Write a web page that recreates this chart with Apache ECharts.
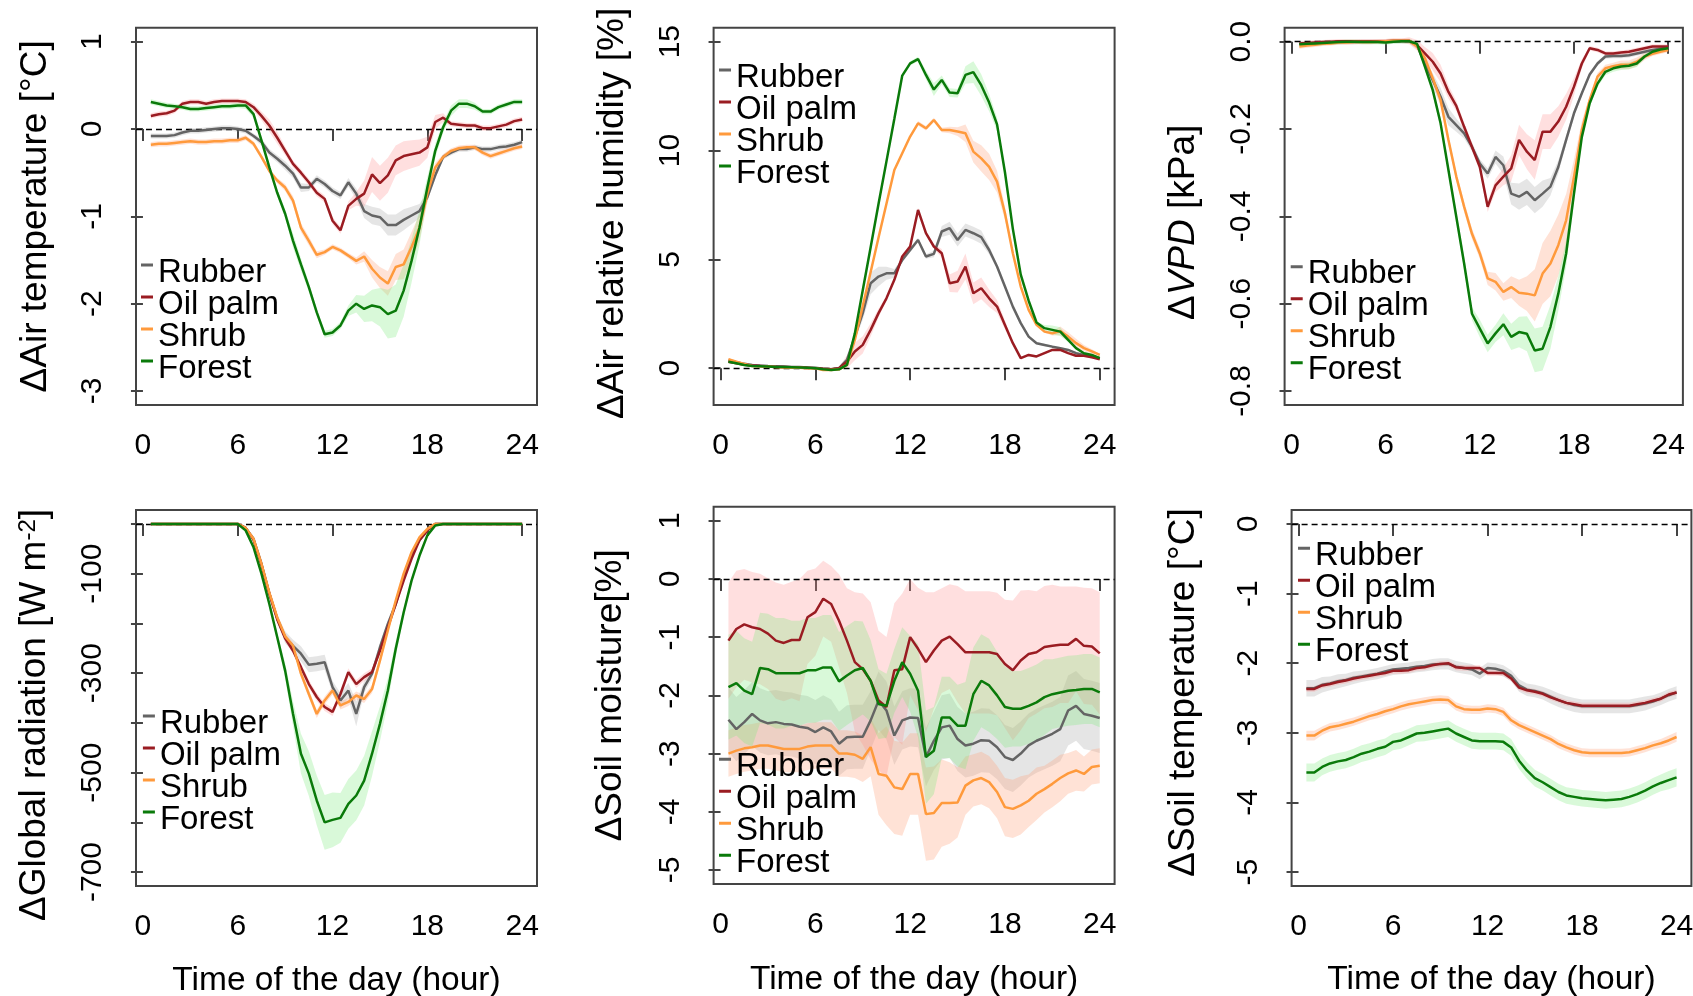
<!DOCTYPE html>
<html>
<head>
<meta charset="utf-8">
<title>Microclimate differences by land use</title>
<script src="https://cdn.jsdelivr.net/npm/echarts@6.0.0/dist/echarts.min.js"></script>
<style>
  html, body { margin: 0; padding: 0; background: #ffffff; }
  #chart { width: 1693px; height: 996px; }
</style>
</head>
<body>
<div id="chart"></div>
<script>
// Half-hourly time of day (hour)
const hours = [
  0.5, 1, 1.5, 2, 2.5, 3, 3.5, 4, 4.5, 5, 5.5, 6,
  6.5, 7, 7.5, 8, 8.5, 9, 9.5, 10, 10.5, 11, 11.5, 12,
  12.5, 13, 13.5, 14, 14.5, 15, 15.5, 16, 16.5, 17, 17.5, 18,
  18.5, 19, 19.5, 20, 20.5, 21, 21.5, 22, 22.5, 23, 23.5, 24
];
const landUses = ['Rubber', 'Oil palm', 'Shrub', 'Forest'];
const hourTicks = [0, 6, 12, 18, 24];

// Tick positions and labels of the value axes
const airTempTicks = [-3, -2, -1, 0, 1];
const humidityTicks = [0, 5, 10, 15];
const vpdTicks = [-0.8, -0.6, -0.4, -0.2, 0];
const radiationTicks = [-700, -600, -500, -400, -300, -200, -100, 0];
const radiationLabels = [-700, -500, -300, -100];
const soilMoistureTicks = [-5, -4, -3, -2, -1, 0, 1];
const soilTempTicks = [-5, -4, -3, -2, -1, 0];

// ΔAir temperature [°C]
const airTempRubber = [
  -0.08, -0.08, -0.08, -0.07, -0.04, -0.02, -0.02, -0.01, 0.00, 0.01, 0.01, 0.00,
  -0.02, -0.08, -0.15, -0.27, -0.34, -0.42, -0.51, -0.67, -0.67, -0.57, -0.63, -0.71,
  -0.76, -0.61, -0.74, -0.94, -0.99, -1.01, -1.10, -1.10, -1.04, -0.99, -0.94, -0.78,
  -0.53, -0.32, -0.27, -0.23, -0.23, -0.21, -0.23, -0.23, -0.21, -0.20, -0.18, -0.15
];
const airTempOilPalm = [
  0.15, 0.17, 0.18, 0.21, 0.29, 0.31, 0.31, 0.29, 0.31, 0.32, 0.32, 0.32,
  0.31, 0.25, 0.15, 0.04, -0.10, -0.25, -0.40, -0.50, -0.61, -0.73, -0.80, -1.05,
  -1.16, -0.88, -0.80, -0.74, -0.52, -0.62, -0.53, -0.36, -0.31, -0.29, -0.27, -0.21,
  0.08, 0.13, 0.06, 0.05, 0.04, 0.04, 0.01, 0.01, 0.03, 0.05, 0.09, 0.11
];
const airTempShrub = [
  -0.18, -0.17, -0.17, -0.16, -0.15, -0.14, -0.15, -0.15, -0.14, -0.14, -0.13, -0.13,
  -0.10, -0.17, -0.32, -0.48, -0.59, -0.67, -0.82, -1.13, -1.28, -1.44, -1.41, -1.35,
  -1.39, -1.45, -1.51, -1.46, -1.60, -1.70, -1.77, -1.58, -1.55, -1.35, -1.13, -0.74,
  -0.44, -0.32, -0.25, -0.22, -0.21, -0.21, -0.27, -0.31, -0.28, -0.25, -0.22, -0.20
];
const airTempForest = [
  0.31, 0.29, 0.27, 0.26, 0.25, 0.23, 0.23, 0.24, 0.25, 0.26, 0.26, 0.27,
  0.27, 0.17, -0.13, -0.44, -0.73, -0.97, -1.28, -1.55, -1.81, -2.10, -2.35, -2.33,
  -2.25, -2.08, -2.00, -2.06, -2.02, -2.04, -2.12, -2.08, -1.85, -1.51, -1.13, -0.67,
  -0.25, 0.02, 0.21, 0.29, 0.29, 0.26, 0.20, 0.20, 0.25, 0.28, 0.31, 0.31
];
const airTempRubberErr = [
  0.03, 0.03, 0.03, 0.03, 0.03, 0.03, 0.03, 0.03, 0.03, 0.03, 0.03, 0.03,
  0.03, 0.03, 0.04, 0.04, 0.04, 0.05, 0.05, 0.05, 0.04, 0.04, 0.04, 0.04,
  0.04, 0.05, 0.06, 0.08, 0.10, 0.10, 0.12, 0.12, 0.12, 0.10, 0.08, 0.05,
  0.04, 0.03, 0.03, 0.03, 0.03, 0.03, 0.03, 0.03, 0.03, 0.03, 0.03, 0.03
];
const airTempOilPalmErr = [
  0.03, 0.03, 0.03, 0.03, 0.03, 0.03, 0.03, 0.03, 0.03, 0.03, 0.03, 0.03,
  0.03, 0.04, 0.05, 0.07, 0.07, 0.05, 0.04, 0.04, 0.04, 0.04, 0.04, 0.04,
  0.04, 0.05, 0.08, 0.15, 0.20, 0.20, 0.20, 0.17, 0.17, 0.16, 0.15, 0.12,
  0.08, 0.05, 0.03, 0.03, 0.03, 0.03, 0.03, 0.03, 0.03, 0.03, 0.03, 0.03
];
const airTempShrubErr = [
  0.03, 0.03, 0.03, 0.03, 0.03, 0.03, 0.03, 0.03, 0.03, 0.03, 0.03, 0.03,
  0.03, 0.03, 0.03, 0.03, 0.03, 0.04, 0.05, 0.05, 0.05, 0.04, 0.03, 0.03,
  0.03, 0.03, 0.04, 0.06, 0.10, 0.12, 0.14, 0.15, 0.17, 0.17, 0.15, 0.10,
  0.05, 0.03, 0.03, 0.03, 0.03, 0.03, 0.03, 0.03, 0.03, 0.03, 0.03, 0.03
];
const airTempForestErr = [
  0.03, 0.03, 0.03, 0.03, 0.03, 0.03, 0.03, 0.03, 0.03, 0.03, 0.03, 0.03,
  0.04, 0.04, 0.04, 0.04, 0.04, 0.05, 0.08, 0.07, 0.05, 0.04, 0.04, 0.04,
  0.04, 0.06, 0.10, 0.15, 0.18, 0.22, 0.28, 0.30, 0.30, 0.25, 0.20, 0.12,
  0.08, 0.06, 0.06, 0.05, 0.05, 0.04, 0.03, 0.03, 0.03, 0.03, 0.03, 0.03
];

// ΔAir relative humidity [%]
const humidityRubber = [
  0.35, 0.28, 0.20, 0.15, 0.12, 0.10, 0.09, 0.08, 0.06, 0.05, 0.03, 0.02,
  -0.02, -0.05, 0.00, 0.38, 1.45, 2.53, 3.90, 4.21, 4.36, 4.36, 4.97, 5.43,
  5.89, 5.13, 5.25, 6.28, 6.43, 5.89, 6.35, 6.20, 6.02, 5.43, 4.67, 3.75,
  2.83, 2.07, 1.45, 1.15, 1.07, 0.99, 0.92, 0.84, 0.69, 0.61, 0.57, 0.46
];
const humidityOilPalm = [
  0.30, 0.23, 0.16, 0.12, 0.10, 0.08, 0.06, 0.05, 0.04, 0.03, 0.02, 0.00,
  -0.03, -0.05, 0.00, 0.30, 0.77, 1.07, 1.76, 2.53, 3.21, 4.06, 5.13, 5.59,
  7.27, 6.20, 5.59, 5.28, 3.90, 3.98, 4.67, 3.44, 3.67, 3.21, 2.83, 1.99,
  1.15, 0.46, 0.61, 0.54, 0.69, 0.84, 0.84, 0.69, 0.57, 0.57, 0.50, 0.41
];
const humidityShrub = [
  0.41, 0.30, 0.20, 0.10, 0.09, 0.08, 0.05, 0.03, 0.02, 0.02, 0.00, 0.00,
  -0.08, -0.08, -0.05, 0.15, 1.30, 2.86, 4.42, 6.00, 7.55, 9.10, 9.87, 10.64,
  11.25, 11.02, 11.40, 10.94, 10.94, 10.87, 10.79, 9.95, 9.64, 9.25, 8.57, 7.12,
  5.28, 3.75, 2.68, 1.99, 1.68, 1.60, 1.71, 1.45, 1.15, 0.92, 0.77, 0.61
];
const humidityForest = [
  0.30, 0.23, 0.15, 0.10, 0.09, 0.08, 0.06, 0.05, 0.04, 0.03, 0.02, 0.00,
  -0.05, -0.08, -0.05, 0.15, 1.60, 3.58, 5.56, 7.55, 9.50, 11.46, 13.44, 14.00,
  14.20, 13.47, 12.80, 13.24, 12.66, 12.63, 13.47, 13.60, 13.00, 12.20, 11.20, 9.00,
  6.40, 4.30, 3.10, 2.10, 1.84, 1.76, 1.68, 1.30, 0.92, 0.69, 0.61, 0.46
];
const humidityRubberErr = [
  0.05, 0.05, 0.05, 0.05, 0.05, 0.05, 0.05, 0.05, 0.05, 0.05, 0.05, 0.05,
  0.05, 0.05, 0.05, 0.10, 0.20, 0.30, 0.50, 0.45, 0.30, 0.20, 0.10, 0.10,
  0.10, 0.10, 0.15, 0.25, 0.30, 0.30, 0.30, 0.30, 0.30, 0.20, 0.10, 0.10,
  0.05, 0.05, 0.05, 0.05, 0.05, 0.05, 0.05, 0.05, 0.05, 0.05, 0.05, 0.05
];
const humidityOilPalmErr = [
  0.05, 0.05, 0.05, 0.05, 0.05, 0.05, 0.05, 0.05, 0.05, 0.05, 0.05, 0.05,
  0.05, 0.05, 0.05, 0.30, 0.40, 0.40, 0.30, 0.20, 0.10, 0.10, 0.10, 0.10,
  0.10, 0.10, 0.10, 0.20, 0.40, 0.50, 0.60, 0.50, 0.50, 0.40, 0.30, 0.20,
  0.10, 0.05, 0.05, 0.05, 0.05, 0.05, 0.05, 0.05, 0.05, 0.05, 0.05, 0.05
];
const humidityShrubErr = [
  0.05, 0.05, 0.05, 0.05, 0.05, 0.05, 0.05, 0.05, 0.05, 0.05, 0.05, 0.05,
  0.05, 0.05, 0.05, 0.05, 0.05, 0.05, 0.05, 0.05, 0.05, 0.05, 0.05, 0.05,
  0.10, 0.10, 0.10, 0.10, 0.15, 0.20, 0.40, 0.50, 0.60, 0.60, 0.50, 0.30,
  0.10, 0.05, 0.05, 0.05, 0.05, 0.10, 0.20, 0.20, 0.20, 0.15, 0.10, 0.05
];
const humidityForestErr = [
  0.05, 0.05, 0.05, 0.05, 0.05, 0.05, 0.05, 0.05, 0.05, 0.05, 0.05, 0.05,
  0.05, 0.05, 0.05, 0.05, 0.10, 0.10, 0.10, 0.10, 0.10, 0.10, 0.10, 0.10,
  0.10, 0.20, 0.30, 0.20, 0.20, 0.20, 0.40, 0.50, 0.50, 0.40, 0.30, 0.20,
  0.10, 0.05, 0.05, 0.05, 0.15, 0.20, 0.20, 0.10, 0.05, 0.05, 0.05, 0.05
];

// ΔVPD [kPa]
const vpdRubber = [
  -0.005, -0.004, -0.003, -0.002, -0.002, -0.001, -0.001, -0.001, 0.000, 0.000, 0.000, 0.000,
  0.001, 0.001, 0.001, -0.008, -0.050, -0.088, -0.126, -0.172, -0.191, -0.210, -0.241, -0.279,
  -0.302, -0.264, -0.283, -0.348, -0.355, -0.344, -0.363, -0.348, -0.332, -0.287, -0.225, -0.164,
  -0.118, -0.075, -0.050, -0.034, -0.033, -0.033, -0.031, -0.027, -0.023, -0.019, -0.016, -0.013
];
const vpdOilPalm = [
  -0.004, -0.003, -0.002, -0.001, 0.000, 0.001, 0.001, 0.001, 0.001, 0.001, 0.001, 0.001,
  0.002, 0.002, 0.002, -0.008, -0.027, -0.046, -0.073, -0.115, -0.147, -0.195, -0.241, -0.287,
  -0.378, -0.329, -0.309, -0.290, -0.225, -0.252, -0.271, -0.206, -0.206, -0.183, -0.149, -0.103,
  -0.050, -0.015, -0.019, -0.027, -0.027, -0.025, -0.023, -0.019, -0.015, -0.011, -0.011, -0.011
];
const vpdShrub = [
  -0.011, -0.009, -0.007, -0.005, -0.004, -0.002, -0.002, -0.001, -0.001, -0.001, 0.000, 0.001,
  0.002, 0.002, 0.002, -0.011, -0.038, -0.084, -0.134, -0.225, -0.309, -0.378, -0.440, -0.485,
  -0.542, -0.550, -0.573, -0.562, -0.575, -0.577, -0.581, -0.531, -0.508, -0.466, -0.409, -0.310,
  -0.202, -0.134, -0.080, -0.061, -0.056, -0.053, -0.053, -0.046, -0.034, -0.028, -0.023, -0.019
];
const vpdForest = [
  -0.006, -0.005, -0.004, -0.003, -0.002, -0.001, 0.000, 0.000, -0.001, -0.001, -0.001, -0.002,
  0.000, 0.001, 0.001, -0.005, -0.057, -0.111, -0.187, -0.294, -0.401, -0.508, -0.623, -0.657,
  -0.691, -0.668, -0.647, -0.676, -0.665, -0.669, -0.707, -0.703, -0.653, -0.577, -0.485, -0.348,
  -0.218, -0.141, -0.096, -0.069, -0.061, -0.057, -0.055, -0.050, -0.034, -0.023, -0.018, -0.015
];
const vpdRubberErr = [
  0.005, 0.005, 0.005, 0.005, 0.005, 0.005, 0.005, 0.005, 0.005, 0.005, 0.005, 0.005,
  0.005, 0.005, 0.005, 0.008, 0.012, 0.015, 0.020, 0.020, 0.015, 0.012, 0.010, 0.010,
  0.012, 0.015, 0.020, 0.025, 0.030, 0.030, 0.030, 0.030, 0.020, 0.015, 0.010, 0.008,
  0.005, 0.005, 0.005, 0.005, 0.005, 0.005, 0.005, 0.005, 0.005, 0.005, 0.005, 0.005
];
const vpdOilPalmErr = [
  0.005, 0.005, 0.005, 0.005, 0.005, 0.005, 0.005, 0.005, 0.005, 0.005, 0.005, 0.005,
  0.005, 0.005, 0.008, 0.012, 0.015, 0.020, 0.020, 0.015, 0.012, 0.010, 0.010, 0.010,
  0.012, 0.015, 0.020, 0.030, 0.035, 0.040, 0.045, 0.040, 0.040, 0.035, 0.030, 0.020,
  0.010, 0.005, 0.005, 0.005, 0.005, 0.005, 0.005, 0.005, 0.005, 0.005, 0.005, 0.005
];
const vpdShrubErr = [
  0.005, 0.005, 0.005, 0.005, 0.005, 0.005, 0.005, 0.005, 0.005, 0.005, 0.005, 0.005,
  0.005, 0.005, 0.005, 0.005, 0.008, 0.010, 0.010, 0.010, 0.010, 0.012, 0.012, 0.012,
  0.015, 0.020, 0.020, 0.025, 0.030, 0.040, 0.060, 0.070, 0.075, 0.070, 0.060, 0.040,
  0.020, 0.010, 0.008, 0.008, 0.008, 0.010, 0.010, 0.010, 0.008, 0.005, 0.005, 0.005
];
const vpdForestErr = [
  0.005, 0.005, 0.005, 0.005, 0.005, 0.005, 0.005, 0.005, 0.005, 0.005, 0.005, 0.005,
  0.005, 0.005, 0.005, 0.005, 0.008, 0.010, 0.012, 0.012, 0.012, 0.015, 0.015, 0.020,
  0.020, 0.020, 0.025, 0.030, 0.035, 0.040, 0.050, 0.050, 0.050, 0.040, 0.030, 0.020,
  0.010, 0.008, 0.008, 0.008, 0.008, 0.008, 0.008, 0.008, 0.005, 0.005, 0.005, 0.005
];

// ΔGlobal radiation [W m-2]
const radiationRubber = [
  0, 0, 0, 0, 0, 0, 0, 0, 0, 0, 0, 0,
  -8, -30, -80, -140, -190, -228, -245, -261, -283, -281, -278, -328,
  -355, -335, -382, -328, -301, -248, -201, -161, -107, -60, -33, -13,
  0, 0, 0, 0, 0, 0, 0, 0, 0, 0, 0, 0
];
const radiationOilPalm = [
  0, 0, 0, 0, 0, 0, 0, 0, 0, 0, 0, 0,
  -8, -32, -82, -140, -192, -230, -255, -288, -322, -348, -368, -378,
  -342, -298, -322, -308, -298, -255, -208, -161, -114, -70, -33, -13,
  0, 0, 0, 0, 0, 0, 0, 0, 0, 0, 0, 0
];
const radiationShrub = [
  0, 0, 0, 0, 0, 0, 0, 0, 0, 0, 0, 0,
  -8, -30, -80, -138, -188, -226, -245, -301, -342, -382, -355, -335,
  -365, -358, -345, -352, -332, -275, -214, -154, -100, -57, -27, -10,
  0, 0, 0, 0, 0, 0, 0, 0, 0, 0, 0, 0
];
const radiationForest = [
  0, 0, 0, 0, 0, 0, 0, 0, 0, 0, 0, 0,
  -13, -47, -100, -161, -228, -295, -382, -462, -502, -556, -600, -595,
  -591, -563, -546, -516, -462, -402, -335, -251, -178, -114, -64, -23,
  -3, 0, 0, 0, 0, 0, 0, 0, 0, 0, 0, 0
];
const radiationRubberErr = [
  2, 2, 2, 2, 2, 2, 2, 2, 2, 2, 2, 2,
  2, 3, 5, 8, 8, 12, 12, 15, 15, 15, 15, 12,
  15, 15, 25, 12, 10, 8, 8, 8, 6, 5, 4, 3,
  2, 2, 2, 2, 2, 2, 2, 2, 2, 2, 2, 2
];
const radiationOilPalmErr = [
  2, 2, 2, 2, 2, 2, 2, 2, 2, 2, 2, 2,
  2, 3, 4, 5, 6, 6, 6, 8, 8, 8, 8, 8,
  8, 8, 8, 8, 8, 8, 6, 6, 5, 4, 3, 2,
  2, 2, 2, 2, 2, 2, 2, 2, 2, 2, 2, 2
];
const radiationShrubErr = [
  2, 2, 2, 2, 2, 2, 2, 2, 2, 2, 2, 2,
  2, 3, 4, 5, 6, 6, 6, 8, 8, 8, 8, 8,
  8, 8, 8, 8, 8, 8, 6, 6, 5, 4, 3, 2,
  2, 2, 2, 2, 2, 2, 2, 2, 2, 2, 2, 2
];
const radiationForestErr = [
  2, 2, 2, 2, 2, 2, 2, 2, 2, 2, 2, 2,
  3, 4, 5, 6, 8, 15, 25, 40, 45, 50, 55, 55,
  50, 50, 50, 50, 45, 35, 25, 15, 10, 5, 3, 2,
  2, 2, 2, 2, 2, 2, 2, 2, 2, 2, 2, 2
];

// ΔSoil moisture [%]
const soilMoistureRubber = [
  -2.42, -2.58, -2.46, -2.32, -2.43, -2.48, -2.46, -2.49, -2.50, -2.54, -2.56, -2.63,
  -2.55, -2.62, -2.83, -2.72, -2.71, -2.71, -2.43, -2.09, -2.26, -2.69, -2.43, -2.38,
  -2.39, -3.06, -2.78, -2.55, -2.52, -2.75, -2.86, -2.83, -2.77, -2.78, -2.89, -3.06,
  -3.11, -3.00, -2.86, -2.78, -2.72, -2.66, -2.58, -2.26, -2.18, -2.32, -2.35, -2.39
];
const soilMoistureOilPalm = [
  -1.06, -0.86, -0.78, -0.83, -0.86, -0.94, -1.06, -1.10, -1.05, -1.05, -0.66, -0.57,
  -0.34, -0.43, -0.72, -1.06, -1.43, -1.55, -1.75, -2.09, -2.20, -1.57, -1.55, -1.00,
  -1.20, -1.43, -1.23, -1.06, -0.99, -1.12, -1.26, -1.26, -1.26, -1.26, -1.29, -1.46,
  -1.57, -1.40, -1.29, -1.26, -1.17, -1.15, -1.13, -1.13, -1.03, -1.15, -1.16, -1.28
];
const soilMoistureShrub = [
  -3.00, -2.95, -2.91, -2.89, -2.86, -2.86, -2.89, -2.92, -2.92, -2.92, -2.88, -2.86,
  -2.86, -2.86, -3.00, -3.00, -3.02, -3.09, -2.89, -3.35, -3.38, -3.58, -3.61, -3.35,
  -3.35, -4.04, -4.02, -3.85, -3.85, -3.84, -3.55, -3.46, -3.42, -3.49, -3.66, -3.92,
  -3.95, -3.89, -3.81, -3.69, -3.61, -3.52, -3.42, -3.34, -3.29, -3.35, -3.23, -3.21
];
const soilMoistureForest = [
  -1.86, -1.79, -1.92, -1.98, -1.53, -1.55, -1.62, -1.62, -1.62, -1.62, -1.57, -1.57,
  -1.52, -1.52, -1.76, -1.66, -1.57, -1.53, -1.75, -2.15, -2.18, -1.75, -1.43, -1.63,
  -1.92, -3.06, -2.95, -2.38, -2.38, -2.52, -2.52, -1.98, -1.75, -1.83, -2.00, -2.20,
  -2.23, -2.23, -2.18, -2.12, -2.03, -1.98, -1.95, -1.92, -1.91, -1.89, -1.89, -1.95
];
const soilMoistureRubberErr = [
  0.55, 0.55, 0.55, 0.55, 0.55, 0.55, 0.55, 0.55, 0.55, 0.55, 0.55, 0.55,
  0.55, 0.55, 0.55, 0.55, 0.55, 0.55, 0.50, 0.50, 0.50, 0.50, 0.50, 0.50,
  0.50, 0.50, 0.50, 0.55, 0.55, 0.55, 0.55, 0.55, 0.55, 0.55, 0.55, 0.55,
  0.55, 0.55, 0.55, 0.55, 0.55, 0.55, 0.55, 0.60, 0.60, 0.60, 0.60, 0.60
];
const soilMoistureOilPalmErr = [
  1.00, 1.00, 0.95, 0.95, 0.95, 0.95, 1.00, 1.00, 1.00, 1.05, 0.80, 0.75,
  0.65, 0.65, 0.80, 0.90, 1.20, 1.30, 1.35, 1.20, 1.20, 1.15, 1.30, 1.00,
  1.05, 1.20, 1.00, 0.90, 0.90, 1.00, 1.05, 1.05, 1.05, 1.05, 1.05, 1.10,
  1.20, 1.20, 1.10, 1.05, 1.05, 1.05, 1.00, 1.00, 0.90, 1.00, 1.00, 1.05
];
const soilMoistureShrubErr = [
  0.40, 0.40, 0.40, 0.40, 0.40, 0.40, 0.40, 0.40, 0.40, 0.40, 0.40, 0.40,
  0.40, 0.40, 0.40, 0.40, 0.40, 0.40, 0.50, 0.70, 0.85, 0.80, 0.80, 0.70,
  0.70, 0.80, 0.80, 0.75, 0.70, 0.60, 0.50, 0.45, 0.45, 0.45, 0.45, 0.50,
  0.50, 0.50, 0.45, 0.45, 0.40, 0.40, 0.40, 0.35, 0.35, 0.30, 0.30, 0.30
];
const soilMoistureForestErr = [
  0.90, 0.90, 0.90, 0.90, 0.95, 0.95, 0.95, 0.95, 0.90, 0.90, 0.90, 0.90,
  0.90, 0.90, 0.85, 0.85, 0.85, 0.80, 0.70, 0.60, 0.55, 0.55, 0.60, 0.65,
  0.80, 0.80, 0.75, 0.70, 0.70, 0.70, 0.75, 0.80, 0.80, 0.80, 0.75, 0.70,
  0.65, 0.65, 0.65, 0.65, 0.65, 0.60, 0.60, 0.60, 0.60, 0.60, 0.60, 0.60
];

// ΔSoil temperature [°C]
const soilTempRubber = [
  -2.36, -2.36, -2.31, -2.29, -2.26, -2.24, -2.21, -2.19, -2.17, -2.15, -2.12, -2.09,
  -2.08, -2.07, -2.05, -2.04, -2.02, -2.01, -2.01, -2.05, -2.07, -2.09, -2.15, -2.07,
  -2.08, -2.11, -2.18, -2.32, -2.38, -2.40, -2.43, -2.48, -2.53, -2.57, -2.60, -2.62,
  -2.62, -2.62, -2.62, -2.62, -2.62, -2.62, -2.60, -2.58, -2.55, -2.51, -2.46, -2.42
];
const soilTempOilPalm = [
  -2.37, -2.37, -2.32, -2.30, -2.27, -2.25, -2.22, -2.20, -2.18, -2.16, -2.14, -2.11,
  -2.11, -2.10, -2.07, -2.06, -2.03, -2.01, -2.00, -2.06, -2.07, -2.07, -2.07, -2.14,
  -2.14, -2.14, -2.22, -2.35, -2.39, -2.41, -2.44, -2.49, -2.53, -2.57, -2.59, -2.61,
  -2.61, -2.61, -2.61, -2.61, -2.61, -2.61, -2.59, -2.57, -2.54, -2.51, -2.45, -2.42
];
const soilTempShrub = [
  -3.04, -3.04, -2.97, -2.92, -2.90, -2.87, -2.84, -2.80, -2.76, -2.73, -2.69, -2.66,
  -2.62, -2.59, -2.57, -2.55, -2.53, -2.52, -2.53, -2.62, -2.66, -2.67, -2.67, -2.65,
  -2.66, -2.70, -2.82, -2.89, -2.94, -2.99, -3.04, -3.09, -3.16, -3.21, -3.25, -3.28,
  -3.29, -3.29, -3.29, -3.29, -3.29, -3.28, -3.25, -3.22, -3.18, -3.15, -3.11, -3.06
];
const soilTempForest = [
  -3.57, -3.57, -3.49, -3.44, -3.41, -3.39, -3.35, -3.30, -3.27, -3.23, -3.20, -3.13,
  -3.11, -3.06, -3.01, -3.00, -2.98, -2.96, -2.94, -3.01, -3.06, -3.11, -3.12, -3.12,
  -3.12, -3.13, -3.21, -3.40, -3.54, -3.65, -3.71, -3.78, -3.85, -3.90, -3.92, -3.94,
  -3.95, -3.96, -3.97, -3.96, -3.95, -3.92, -3.88, -3.83, -3.77, -3.72, -3.68, -3.64
];
const soilTempRubberErr = [
  0.12, 0.12, 0.11, 0.10, 0.10, 0.09, 0.09, 0.08, 0.08, 0.08, 0.08, 0.08,
  0.08, 0.08, 0.08, 0.08, 0.08, 0.08, 0.08, 0.08, 0.08, 0.08, 0.08, 0.08,
  0.08, 0.08, 0.08, 0.09, 0.09, 0.09, 0.09, 0.10, 0.10, 0.10, 0.10, 0.10,
  0.10, 0.10, 0.10, 0.10, 0.10, 0.10, 0.10, 0.10, 0.09, 0.09, 0.09, 0.09
];
const soilTempOilPalmErr = [
  0.04, 0.04, 0.04, 0.04, 0.04, 0.04, 0.04, 0.04, 0.04, 0.04, 0.04, 0.04,
  0.04, 0.04, 0.04, 0.04, 0.04, 0.04, 0.04, 0.04, 0.04, 0.04, 0.04, 0.04,
  0.04, 0.04, 0.04, 0.04, 0.04, 0.04, 0.04, 0.04, 0.04, 0.04, 0.04, 0.04,
  0.04, 0.04, 0.04, 0.04, 0.04, 0.04, 0.04, 0.04, 0.04, 0.04, 0.04, 0.04
];
const soilTempShrubErr = [
  0.07, 0.07, 0.06, 0.06, 0.06, 0.06, 0.06, 0.06, 0.06, 0.06, 0.06, 0.06,
  0.06, 0.06, 0.06, 0.06, 0.06, 0.06, 0.06, 0.06, 0.06, 0.06, 0.06, 0.06,
  0.06, 0.06, 0.06, 0.06, 0.06, 0.06, 0.06, 0.06, 0.06, 0.06, 0.06, 0.06,
  0.06, 0.06, 0.06, 0.06, 0.06, 0.06, 0.06, 0.06, 0.06, 0.06, 0.07, 0.07
];
const soilTempForestErr = [
  0.13, 0.13, 0.12, 0.12, 0.12, 0.12, 0.12, 0.12, 0.12, 0.12, 0.12, 0.12,
  0.12, 0.12, 0.12, 0.12, 0.12, 0.12, 0.12, 0.12, 0.12, 0.12, 0.12, 0.12,
  0.12, 0.12, 0.12, 0.12, 0.12, 0.12, 0.12, 0.12, 0.12, 0.12, 0.12, 0.12,
  0.12, 0.12, 0.12, 0.12, 0.12, 0.12, 0.12, 0.12, 0.12, 0.12, 0.13, 0.13
];

// ---------------------------------------------------------------------------
const FONT = "'Liberation Sans', Arial, Helvetica, sans-serif";
const AXIS_COLOR = '#444444';
const LINE_COLORS = ['#646464', '#9a1c22', '#ff9a3c', '#0a7a0a'];
const BAND_COLORS = [
  'rgba(150,150,150,0.25)',
  'rgba(255,140,140,0.28)',
  'rgba(255,160,120,0.30)',
  'rgba(120,235,120,0.28)'
];
// Legend key: a short dash drawn at the top of a 12x18 box, so the label
// text sits slightly below the dash.
const LEGEND_DASH = 'path://M0,0L12,0L12,3L0,3Z M0,17.96L0.04,17.96L0.04,18L0,18Z';

const panels = [
  {
    means: [airTempRubber, airTempOilPalm, airTempShrub, airTempForest],
    errs: [airTempRubberErr, airTempOilPalmErr, airTempShrubErr, airTempForestErr],
    grid: { left: 136, top: 27.7, width: 401, height: 377.3 },
    yMin: -3.16, yMax: 1.16, yTicks: airTempTicks, yLabels: airTempTicks,
    yName: 'ΔAir temperature [°C]', nameGap: 81.5, namePad: [0, 0, 0, 0],
    legend: { left: 141, top: 256 }, xName: false
  },
  {
    means: [humidityRubber, humidityOilPalm, humidityShrub, humidityForest],
    errs: [humidityRubberErr, humidityOilPalmErr, humidityShrubErr, humidityForestErr],
    grid: { left: 713.6, top: 27.7, width: 401, height: 377.3 },
    yMin: -1.69, yMax: 15.64, yTicks: humidityTicks, yLabels: humidityTicks,
    yName: 'ΔAir relative humidity [%]', nameGap: 82, namePad: [0, 0, 0, 6],
    legend: { left: 719, top: 61 }, xName: false
  },
  {
    means: [vpdRubber, vpdOilPalm, vpdShrub, vpdForest],
    errs: [vpdRubberErr, vpdOilPalmErr, vpdShrubErr, vpdForestErr],
    grid: { left: 1284.6, top: 27.7, width: 398.3, height: 377.3 },
    yMin: -0.832, yMax: 0.032, yTicks: vpdTicks, yLabels: vpdTicks, decimals: 1,
    yName: 'Δ{it|VPD} [kPa]', nameGap: 82.5, namePad: [0, 12, 0, 0],
    legend: { left: 1290.7, top: 257.7 }, xName: false
  },
  {
    means: [radiationRubber, radiationOilPalm, radiationShrub, radiationForest],
    errs: [radiationRubberErr, radiationOilPalmErr, radiationShrubErr, radiationForestErr],
    grid: { left: 136, top: 510, width: 401, height: 376 },
    yMin: -728, yMax: 28, yTicks: radiationTicks, yLabels: radiationLabels,
    yName: 'ΔGlobal radiation [W m{sup|-2}]', nameGap: 82.5, namePad: [0, 34, 0, 0],
    legend: { left: 142.9, top: 707 }, xName: true, xNameGap: 77.5
  },
  {
    means: [soilMoistureRubber, soilMoistureOilPalm, soilMoistureShrub, soilMoistureForest],
    errs: [soilMoistureRubberErr, soilMoistureOilPalmErr, soilMoistureShrubErr, soilMoistureForestErr],
    grid: { left: 713.6, top: 506.7, width: 401, height: 377.3 },
    yMin: -5.24, yMax: 1.24, yTicks: soilMoistureTicks, yLabels: soilMoistureTicks,
    yName: 'ΔSoil moisture[%]', nameGap: 84, namePad: [0, 0, 0, 0],
    legend: { left: 719, top: 750.3 }, xName: true, xNameGap: 79
  },
  {
    means: [soilTempRubber, soilTempOilPalm, soilTempShrub, soilTempForest],
    errs: [soilTempRubberErr, soilTempOilPalmErr, soilTempShrubErr, soilTempForestErr],
    grid: { left: 1291.6, top: 510, width: 399.8, height: 376 },
    yMin: -5.2, yMax: 0.2, yTicks: soilTempTicks, yLabels: soilTempTicks,
    yName: 'ΔSoil temperature [°C]', nameGap: 89, namePad: [0, 0, 0, 11],
    legend: { left: 1298, top: 539.3 }, xName: true, xNameGap: 77
  }
];

// Points are written as [value, hour] and mapped with encode so that the
// stacked dimension of the confidence bands is always the value.
function points(values) {
  return hours.map((h, i) => [values[i], h]);
}

const grids = [];
const xAxes = [];
const yAxes = [];
const legends = [];
const series = [];

panels.forEach((p, gi) => {
  grids.push(Object.assign({
    show: true,
    borderColor: AXIS_COLOR,
    borderWidth: 2,
    backgroundColor: 'transparent',
    containLabel: false,
    outerBoundsMode: 'none'
  }, p.grid));

  xAxes.push({
    type: 'value',
    gridIndex: gi,
    min: -0.44,
    max: 24.94,
    splitLine: { show: false },
    axisLine: { show: false },
    axisTick: {
      show: true, length: 12, customValues: hourTicks,
      lineStyle: { color: AXIS_COLOR, width: 2 }
    },
    axisLabel: {
      customValues: hourTicks, margin: 25.5,
      fontSize: 30, color: '#000', fontFamily: FONT
    },
    name: p.xName ? 'Time of the day (hour)' : '',
    nameLocation: 'middle',
    nameGap: p.xNameGap || 0,
    nameTextStyle: { fontSize: 33.5, color: '#000', fontFamily: FONT }
  });

  yAxes.push({
    type: 'value',
    gridIndex: gi,
    min: p.yMin,
    max: p.yMax,
    splitLine: { show: false },
    axisLine: { show: false },
    axisTick: {
      show: true, length: 12, customValues: p.yTicks,
      lineStyle: { color: AXIS_COLOR, width: 2 }
    },
    axisLabel: {
      customValues: p.yLabels, rotate: 90, margin: 28,
      fontSize: 30, color: '#000', fontFamily: FONT,
      formatter: (v) => (p.decimals ? Number(v).toFixed(p.decimals) : String(v))
    },
    name: p.yName,
    nameLocation: 'middle',
    nameGap: p.nameGap,
    nameTextStyle: {
      fontSize: 37, color: '#000', fontFamily: FONT, padding: p.namePad,
      rich: {
        it: { fontSize: 37, fontStyle: 'italic', color: '#000', fontFamily: FONT },
        sup: { fontSize: 24, verticalAlign: 'top', color: '#000', fontFamily: FONT }
      }
    }
  });

  legends.push({
    orient: 'vertical',
    left: p.legend.left,
    top: p.legend.top,
    padding: 0,
    itemGap: -1,
    itemWidth: 12,
    itemHeight: 18,
    icon: LEGEND_DASH,
    selectedMode: false,
    z: 6,
    data: landUses,
    textStyle: { fontSize: 33, color: '#000', fontFamily: FONT }
  });

  // Confidence bands: lower bound plus the band width, stacked
  landUses.forEach((lu, k) => {
    const mean = p.means[k];
    const err = p.errs[k];
    const lower = mean.map((m, i) => m - err[i]);
    const span = err.map((e) => 2 * e);
    const stack = 'band-' + gi + '-' + k;
    const low = {
      type: 'line',
      name: lu + ' interval',
      xAxisIndex: gi, yAxisIndex: gi,
      encode: { x: 1, y: 0 },
      data: points(lower),
      stack: stack, stackStrategy: 'all',
      symbol: 'none',
      lineStyle: { opacity: 0 },
      silent: true,
      emphasis: { disabled: true },
      z: 1
    };
    if (k === 0) {
      low.markLine = {
        silent: true,
        symbol: 'none',
        z: 2,
        label: { show: false },
        lineStyle: { color: '#000', width: 1.4, type: [6, 4], opacity: 1 },
        emphasis: { disabled: true },
        data: [{ yAxis: 0 }]
      };
    }
    series.push(low);
    series.push({
      type: 'line',
      name: lu + ' interval',
      xAxisIndex: gi, yAxisIndex: gi,
      encode: { x: 1, y: 0 },
      data: points(span),
      stack: stack, stackStrategy: 'all',
      symbol: 'none',
      lineStyle: { opacity: 0 },
      areaStyle: { color: BAND_COLORS[k], opacity: 1 },
      silent: true,
      emphasis: { disabled: true },
      z: 1
    });
  });

  // Mean difference lines
  landUses.forEach((lu, k) => {
    series.push({
      type: 'line',
      name: lu,
      xAxisIndex: gi, yAxisIndex: gi,
      encode: { x: 1, y: 0 },
      data: points(p.means[k]),
      color: LINE_COLORS[k],
      symbol: 'none',
      lineStyle: { color: LINE_COLORS[k], width: 2.5 },
      itemStyle: { color: LINE_COLORS[k] },
      silent: true,
      emphasis: { disabled: true },
      z: 3
    });
  });
});

const chart = echarts.init(document.getElementById('chart'), null, { renderer: 'canvas' });
chart.setOption({
  backgroundColor: '#ffffff',
  animation: false,
  textStyle: { fontFamily: FONT },
  grid: grids,
  xAxis: xAxes,
  yAxis: yAxes,
  legend: legends,
  series: series
});
</script>
</body>
</html>
